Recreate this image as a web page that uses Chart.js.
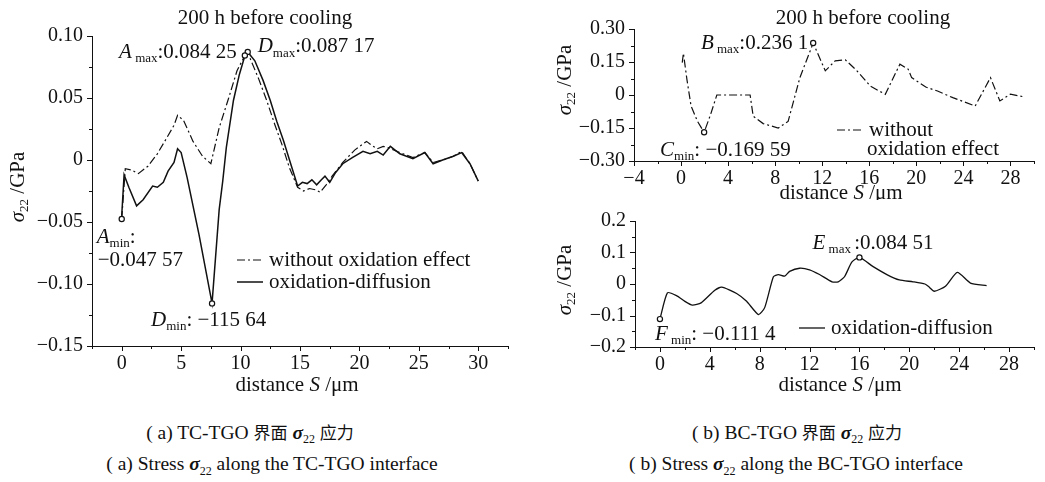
<!DOCTYPE html>
<html>
<head>
<meta charset="utf-8">
<script src="https://cdn.jsdelivr.net/npm/chart.js@4"></script>
<style>
  body { margin: 0; background: #fff; width: 1045px; height: 482px; position: relative; overflow: hidden; }
  .box { position: absolute; }
  .cap { position: absolute; white-space: nowrap; transform: translate(-50%, -50%);
         font-family: "Liberation Serif", "Noto Sans CJK SC", serif; font-size: 19.5px; color: #111; }
  .cap i { font-weight: bold; }
  .cap sub { font-size: 12px; }
  .cap .zh { font-family: "Noto Sans CJK SC", sans-serif; font-size: 17px; }
</style>
</head>
<body>
<div class="box" style="left:0;top:0;width:520px;height:400px"><canvas id="chartA"></canvas></div>
<div class="box" style="left:520px;top:0;width:525px;height:200px"><canvas id="chartB"></canvas></div>
<div class="box" style="left:520px;top:200px;width:525px;height:200px"><canvas id="chartE"></canvas></div>

<div class="cap" style="left:250px;top:433px">( a) TC-TGO <span class="zh">界面</span> <i>σ</i><sub>22</sub> <span class="zh">应力</span></div>
<div class="cap" style="left:272px;top:466px">( a) Stress <i>σ</i><sub>22</sub> along the TC-TGO interface</div>
<div class="cap" style="left:797px;top:433px">( b) BC-TGO <span class="zh">界面</span> <i>σ</i><sub>22</sub> <span class="zh">应力</span></div>
<div class="cap" style="left:796px;top:466px">( b) Stress <i>σ</i><sub>22</sub> along the BC-TGO interface</div>

<script>
const FONT = '"Liberation Serif", "Times New Roman", serif';
const INK = '#111';

// (a) TC-TGO interface, distance S (um) / sigma22 (GPa)
const sA = [0, 0.3, 0.8, 1.4, 2.2, 3.0, 3.8, 4.4, 4.7, 5.2, 6.0, 6.8, 7.5, 8.2, 9.0, 9.7, 10.36, 10.8, 11.5, 12.2,
  12.9, 13.5, 14.1, 14.8, 15.3, 15.8, 16.3, 16.7, 17.2, 17.7, 18.6, 19.6, 20.6, 21.0, 21.5, 22.0, 22.4, 23.4, 24.5, 25.5,
  26.2, 27.0, 27.9, 28.6, 29.3, 30.0];
const withoutA = [-0.04757, -0.007, -0.008, -0.011, -0.005, 0.005, 0.018, 0.028, 0.036, 0.032, 0.015, 0.003, -0.003, 0.026, 0.05, 0.072, 0.08425, 0.082, 0.066, 0.048,
  0.028, 0.012, -0.006, -0.022, -0.025, -0.023, -0.024, -0.026, -0.02, -0.013, -0.002, 0.008, 0.015, 0.012, 0.009, 0.011, 0.010, 0.006, 0.002, 0.006,
  -0.002, 0.0, 0.003, 0.007, -0.003, -0.017];
const sD = [0, 0.2, 0.6, 1.25, 1.8, 2.6, 3.0, 3.5, 3.9, 4.4, 4.7, 5.0, 5.5, 6.5, 7.6, 8.2, 8.5, 8.8, 9.4, 9.9,
  10.3, 10.6, 11.2, 11.9, 12.5, 13.05, 13.6, 14.15, 14.8, 15.2, 15.6, 16.0, 16.4, 16.8, 17.1, 17.5, 18.0, 18.6, 19.4, 20.3,
  20.9, 21.5, 22.0, 22.6, 23.4, 24.5, 25.5, 26.2, 27.0, 27.9, 28.6, 29.3, 30.0];
const diffusionD = [-0.045, -0.012, -0.022, -0.037, -0.032, -0.021, -0.022, -0.018, -0.009, -0.002, 0.009, 0.006, -0.014, -0.06, -0.11564, -0.04, -0.017, 0.010, 0.048, 0.069,
  0.082, 0.08717, 0.08, 0.064, 0.048, 0.031, 0.016, -0.001, -0.021, -0.018, -0.019, -0.016, -0.02, -0.016, -0.013, -0.018, -0.01, -0.003, 0.002, 0.007,
  0.005, 0.007, 0.004, 0.011, 0.005, 0.001, 0.006, -0.003, 0.0, 0.003, 0.006, -0.003, -0.017];
const xTicksA = [0, 5, 10, 15, 20, 25, 30];
const yTicksA = [-0.15, -0.10, -0.05, 0, 0.05, 0.10];

// (b) BC-TGO interface, without oxidation effect
const sB = [0.1, 0.2, 0.5, 0.85, 1.4, 1.96, 2.5, 3.04, 4.0, 5.0, 5.87, 6.13, 6.98, 8.26, 9.1, 10.1, 11.23, 12.26, 13.1, 13.96,
  14.95, 16.1, 17.36, 18.6, 19.3, 19.6, 20.8, 21.8, 23.1, 25.0, 26.3, 27.1, 28.0, 29.1];
const withoutB = [0.147, 0.19, 0.07, -0.05, -0.12, -0.16959, -0.09, 0, 0, 0, 0, -0.096, -0.13, -0.15, -0.12, 0.079, 0.2361, 0.11, 0.155, 0.16,
  0.11, 0.04, 0.003, 0.14, 0.118, 0.079, 0.036, 0.018, -0.012, -0.05, 0.079, -0.027, 0.004, -0.008];
const xTicksB = [-4, 0, 4, 8, 12, 16, 20, 24, 28];
const yTicksB = [-0.30, -0.15, 0, 0.15, 0.30];

// (b) BC-TGO interface, oxidation-diffusion
const sE = [0, 0.6, 1.33, 2.0, 2.6, 3.3, 4.4, 4.95, 6.15, 6.95, 7.9, 8.4, 9.1, 9.5, 10.0, 10.4, 11.2, 12.0, 12.8, 13.8,
  14.3, 14.8, 15.4, 16.0, 17.1, 18.2, 19.2, 20.3, 21.25, 21.6, 22.0, 22.9, 23.85, 24.9, 26.2];
const diffusionE = [-0.1114, -0.028, -0.037, -0.055, -0.067, -0.06, -0.02, -0.01, -0.03, -0.055, -0.097, -0.075, 0.023, 0.03, 0.025, 0.04, 0.05, 0.045, 0.03, 0.007,
  0.007, 0.023, 0.07, 0.08451, 0.055, 0.03, 0.013, 0.007, 0.0, -0.01, -0.023, -0.007, 0.037, 0.003, -0.005];
const xTicksE = [0, 4, 8, 12, 16, 20, 24, 28];
const yTicksE = [-0.2, -0.1, 0, 0.1, 0.2];

const DASHDOT = [8, 3, 2, 3];

function fmt(v, d) {
  if (Math.abs(v) < 1e-9) return '0';
  const s = Math.abs(v).toFixed(d);
  return v < 0 ? '\u2212' + s : s;
}

// halfway ticks between the labelled ones, plus one step outside if it still fits
function minorOf(major, min, max) {
  const step = major[1] - major[0];
  const out = [];
  for (let v = major[0] - step / 2; v <= max + 1e-9; v += step) {
    if (v >= min - 1e-9) out.push(v);
  }
  return out;
}

function fontFor(style, size) {
  if (style === 's') return Math.round(size * 0.6) + 'px ' + FONT;
  if (style === 'i') return 'italic ' + size + 'px ' + FONT;
  return size + 'px ' + FONT;
}

function drawRich(ctx, parts, x, y, align, size) {
  size = size || 21;
  let w = 0;
  parts.forEach(p => { ctx.font = fontFor(p[1], size); w += ctx.measureText(p[0]).width; });
  let cx = align === 'center' ? x - w / 2 : align === 'right' ? x - w : x;
  ctx.textAlign = 'left';
  ctx.textBaseline = 'middle';
  ctx.fillStyle = INK;
  parts.forEach(p => {
    ctx.font = fontFor(p[1], size);
    ctx.fillText(p[0], cx, y + (p[1] === 's' ? size * 0.3 : 0));
    cx += ctx.measureText(p[0]).width;
  });
}

function decor(spec) {
  return {
    id: 'decor',
    afterDraw(chart) {
      const ctx = chart.ctx;
      const xs = chart.scales.x, ys = chart.scales.y, area = chart.chartArea;
      ctx.save();
      ctx.strokeStyle = INK;
      ctx.lineWidth = 1;
      ctx.beginPath();
      spec.xTicks.forEach(v => { const p = Math.round(xs.getPixelForValue(v)) + 0.5; ctx.moveTo(p, area.bottom); ctx.lineTo(p, area.bottom + 5); });
      minorOf(spec.xTicks, xs.min, xs.max).forEach(v => { const p = Math.round(xs.getPixelForValue(v)) + 0.5; ctx.moveTo(p, area.bottom); ctx.lineTo(p, area.bottom + 3); });
      spec.yTicks.forEach(v => { const p = Math.round(ys.getPixelForValue(v)) + 0.5; ctx.moveTo(area.left, p); ctx.lineTo(area.left - 5, p); });
      minorOf(spec.yTicks, ys.min, ys.max).forEach(v => { const p = Math.round(ys.getPixelForValue(v)) + 0.5; ctx.moveTo(area.left, p); ctx.lineTo(area.left - 3, p); });
      ctx.stroke();

      spec.texts.forEach(t => {
        if (t.rot) {
          ctx.save();
          ctx.translate(t.x, t.y);
          ctx.rotate(-Math.PI / 2);
          drawRich(ctx, t.parts, 0, 0, 'center');
          ctx.restore();
        } else {
          drawRich(ctx, t.parts, t.x, t.y, t.align || 'left');
        }
      });

      spec.legend.forEach(l => {
        const ds = chart.data.datasets[l.ds];
        ctx.setLineDash(ds.borderDash || []);
        ctx.lineWidth = ds.borderWidth;
        ctx.beginPath();
        ctx.moveTo(l.x1, l.y);
        ctx.lineTo(l.x2, l.y);
        ctx.stroke();
        ctx.setLineDash([]);
        drawRich(ctx, [[l.label, 'n']], l.x2 + 6, l.y, 'left');
      });

      spec.marks.forEach(m => {
        const ys2 = spec.series[m.ds].ys;
        const target = m.pick === 'max' ? Math.max(...ys2) : Math.min(...ys2);
        const pt = chart.getDatasetMeta(m.ds).data[ys2.indexOf(target)];
        m.lines.forEach(line => drawRich(ctx, line.parts, pt.x + line.dx, pt.y + line.dy, line.align));
      });
      ctx.restore();
    }
  };
}

function buildChart(id, spec) {
  const datasets = spec.series.map(s => {
    const marked = s.marks.map(k => s.ys.indexOf(k === 'max' ? Math.max(...s.ys) : Math.min(...s.ys)));
    return {
      data: s.xs.map((x, i) => ({ x: x, y: s.ys[i] })),
      borderColor: INK,
      borderWidth: s.width,
      borderDash: s.dash,
      tension: s.tension || 0,
      fill: false,
      pointRadius: c => marked.includes(c.dataIndex) ? 2.6 : 0,
      pointBackgroundColor: '#fff',
      pointBorderColor: INK,
      pointBorderWidth: 1.2
    };
  });

  const tickFont = { family: FONT, size: 20 };

  return new Chart(document.getElementById(id), {
    type: 'line',
    data: { datasets: datasets },
    options: {
      responsive: true,
      maintainAspectRatio: false,
      animation: false,
      events: [],
      layout: { padding: { top: spec.padTop, right: spec.padRight, left: 0, bottom: 0 } },
      plugins: { legend: { display: false }, tooltip: { enabled: false } },
      scales: {
        x: {
          type: 'linear', min: spec.xMin, max: spec.xMax,
          afterBuildTicks: s => { s.ticks = spec.xTicks.map(v => ({ value: v })); },
          afterFit: s => { s.height = spec.xH; },
          grid: { drawOnChartArea: false, drawTicks: false },
          border: { color: INK, width: 1 },
          ticks: { autoSkip: false, maxRotation: 0, padding: 6, color: INK, font: tickFont, callback: v => fmt(v, 0) }
        },
        y: {
          type: 'linear', min: spec.yMin, max: spec.yMax,
          afterBuildTicks: s => { s.ticks = spec.yTicks.map(v => ({ value: v })); },
          afterFit: s => { s.width = spec.yW; },
          grid: { drawOnChartArea: false, drawTicks: false },
          border: { color: INK, width: 1 },
          ticks: { autoSkip: false, padding: 9, color: INK, font: tickFont, callback: v => fmt(v, spec.yDec) }
        }
      }
    },
    plugins: [decor(spec)]
  });
}

const yTitle = [['\u03c3', 'i'], ['22', 's'], [' /GPa', 'n']];
const xTitle = [['distance ', 'n'], ['S', 'i'], [' /\u03bcm', 'n']];

buildChart('chartA', {
  series: [
    { xs: sA, ys: withoutA, width: 1.2, dash: DASHDOT, marks: ['max', 'min'] },
    { xs: sD, ys: diffusionD, width: 1.5, dash: [], marks: ['max', 'min'] }
  ],
  xMin: -2.5, xMax: 32.5, yMin: -0.15, yMax: 0.10, yDec: 2,
  xTicks: xTicksA, yTicks: yTicksA,
  yW: 92, xH: 54, padTop: 36, padRight: 12,
  texts: [
    { parts: [['200 h before cooling', 'n']], x: 265, y: 18, align: 'center' },
    { parts: xTitle, x: 297, y: 385, align: 'center' },
    { parts: yTitle, x: 18, y: 187, rot: true }
  ],
  legend: [
    { ds: 0, x1: 237, x2: 263, y: 260, label: 'without oxidation effect' },
    { ds: 1, x1: 237, x2: 263, y: 282, label: 'oxidation-diffusion' }
  ],
  marks: [
    { ds: 0, pick: 'max', lines: [{ parts: [['A', 'i'], [' max', 's'], [':0.084 25', 'n']], dx: -8, dy: -3, align: 'right' }] },
    { ds: 1, pick: 'max', lines: [{ parts: [['D', 'i'], ['max', 's'], [':0.087 17', 'n']], dx: 10, dy: -5, align: 'left' }] },
    { ds: 0, pick: 'min', lines: [
      { parts: [['A', 'i'], ['min', 's'], [':', 'n']], dx: -25, dy: 18, align: 'left' },
      { parts: [['\u22120.047 57', 'n']], dx: -24, dy: 41, align: 'left' }
    ] },
    { ds: 1, pick: 'min', lines: [{ parts: [['D', 'i'], ['min', 's'], [': \u2212115 64', 'n']], dx: -61, dy: 17, align: 'left' }] }
  ]
});

buildChart('chartB', {
  series: [
    { xs: sB, ys: withoutB, width: 1.2, dash: DASHDOT, marks: ['max', 'min'] }
  ],
  xMin: -4, xMax: 30, yMin: -0.30, yMax: 0.30, yDec: 2,
  xTicks: xTicksB, yTicks: yTicksB,
  yW: 114, xH: 39, padTop: 29, padRight: 11,
  texts: [
    { parts: [['200 h before cooling', 'n']], x: 343, y: 18, align: 'center' },
    { parts: xTitle, x: 321, y: 193, align: 'center' },
    { parts: yTitle, x: 45, y: 80, rot: true },
    { parts: [['oxidation effect', 'n']], x: 347, y: 149, align: 'left' }
  ],
  legend: [
    { ds: 0, x1: 317, x2: 343, y: 130, label: 'without' }
  ],
  marks: [
    { ds: 0, pick: 'max', lines: [{ parts: [['B', 'i'], [' max', 's'], [':0.236 1', 'n']], dx: -5, dy: 0, align: 'right' }] },
    { ds: 0, pick: 'min', lines: [{ parts: [['C', 'i'], ['min', 's'], [': \u22120.169 59', 'n']], dx: -44, dy: 18, align: 'left' }] }
  ]
});

buildChart('chartE', {
  series: [
    { xs: sE, ys: diffusionE, width: 1.3, dash: [], tension: 0.2, marks: ['max', 'min'] }
  ],
  xMin: -2, xMax: 30, yMin: -0.2, yMax: 0.2, yDec: 1,
  xTicks: xTicksE, yTicks: yTicksE,
  yW: 115, xH: 53, padTop: 14, padRight: 11,
  texts: [
    { parts: xTitle, x: 320, y: 185, align: 'center' },
    { parts: yTitle, x: 45, y: 80, rot: true }
  ],
  legend: [
    { ds: 0, x1: 279, x2: 305, y: 128, label: 'oxidation-diffusion' }
  ],
  marks: [
    { ds: 0, pick: 'max', lines: [{ parts: [['E', 'i'], [' max ', 's'], [':0.084 51', 'n']], dx: -47, dy: -14, align: 'left' }] },
    { ds: 0, pick: 'min', lines: [{ parts: [['F', 'i'], [' min', 's'], [': \u22120.111 4', 'n']], dx: -5, dy: 15, align: 'left' }] }
  ]
});
</script>
</body>
</html>
